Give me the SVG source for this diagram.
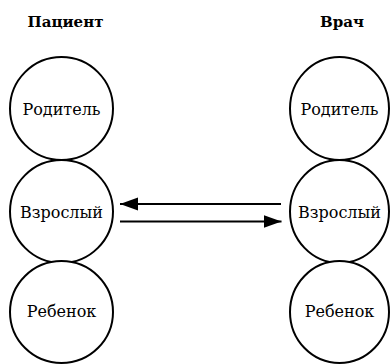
<svg xmlns="http://www.w3.org/2000/svg" width="392" height="364" viewBox="0 0 392 364">
  <style>
    .node ellipse { fill: #ffffff; stroke: #000000; stroke-width: 2; }
    .label { font-family: "DejaVu Serif", serif; font-size: 16px; fill: #000000; text-anchor: middle; }
    .title { font-family: "DejaVu Serif", serif; font-size: 15px; font-weight: bold; fill: #000000; text-anchor: middle; }
    .conn { stroke: #000000; stroke-width: 2.2; fill: none; marker-end: url(#head); }
  </style>
  <defs>
    <marker id="head" markerUnits="userSpaceOnUse" markerWidth="20" markerHeight="14" refX="18" refY="7" orient="auto">
      <path d="M0,0.5 L18,7 L0,13.5 Z" fill="#000000"/>
    </marker>
  </defs>
  <rect width="392" height="364" fill="#ffffff"/>

  <!-- column headings -->
  <text class="title" x="65.5" y="27">Пациент</text>
  <text class="title" x="342" y="27">Врач</text>

  <!-- patient ego states -->
  <g id="patient-parent" class="node">
    <ellipse cx="61.5" cy="108.5" rx="51.5" ry="51.5"/>
    <text class="label" x="61.5" y="115">Родитель</text>
  </g>
  <g id="patient-adult" class="node">
    <ellipse cx="61.5" cy="211.5" rx="51.5" ry="51.5"/>
    <text class="label" x="61.5" y="218">Взрослый</text>
  </g>
  <g id="patient-child" class="node">
    <ellipse cx="61.5" cy="312" rx="51.5" ry="51"/>
    <text class="label" x="61.5" y="317">Ребенок</text>
  </g>

  <!-- doctor ego states -->
  <g id="doctor-parent" class="node">
    <ellipse cx="339.5" cy="108.5" rx="49.5" ry="51.5"/>
    <text class="label" x="339.5" y="115">Родитель</text>
  </g>
  <g id="doctor-adult" class="node">
    <ellipse cx="339.5" cy="211.5" rx="49.5" ry="51.5"/>
    <text class="label" x="339.5" y="218">Взрослый</text>
  </g>
  <g id="doctor-child" class="node">
    <ellipse cx="339.5" cy="312" rx="49.5" ry="51"/>
    <text class="label" x="339.5" y="317">Ребенок</text>
  </g>

  <!-- transactions between the adult states -->
  <g id="connectors">
    <line class="conn" x1="281" y1="204" x2="120" y2="204"/>
    <line class="conn" x1="120" y1="221.5" x2="281.5" y2="221.5"/>
  </g>
</svg>
